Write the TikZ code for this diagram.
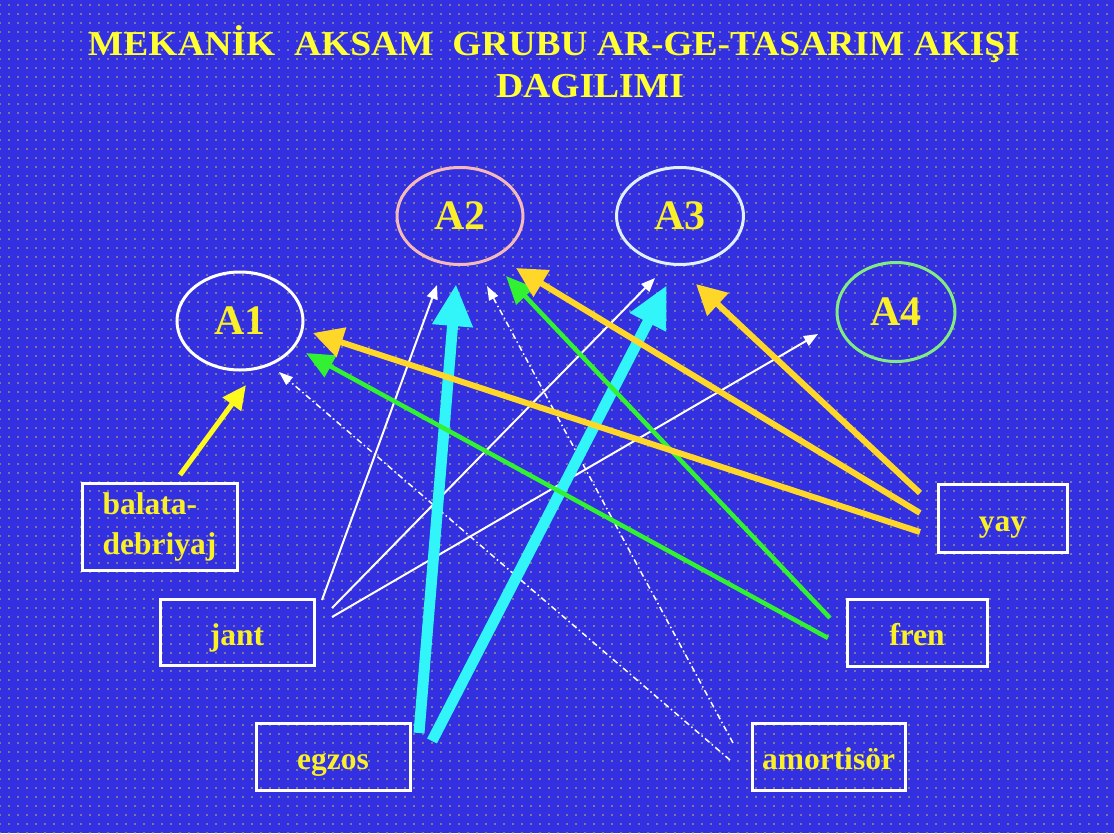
\documentclass[tikz,border=0pt]{standalone}
\usepackage{fontspec}
\setmainfont{Liberation Serif}
\usetikzlibrary{arrows.meta,patterns.meta,shapes.geometric}
\definecolor{bg}{RGB}{50,48,224}
\definecolor{dotc}{RGB}{205,190,85}
\definecolor{ttl}{RGB}{255,255,50}
\definecolor{lbl}{RGB}{250,240,40}
\definecolor{gold}{RGB}{255,215,40}
\definecolor{yel}{RGB}{255,250,30}
\definecolor{grn}{RGB}{50,240,50}
\definecolor{cyn}{RGB}{50,245,250}
\definecolor{pinkc}{RGB}{245,185,185}
\definecolor{paleb}{RGB}{225,240,255}
\definecolor{paleg}{RGB}{130,235,130}
\begin{document}
\begin{tikzpicture}[x=1pt,y=-1pt]
\tikzset{
  oval/.style={ellipse, line width=3pt, inner sep=0pt, text=lbl,
    font=\fontsize{42}{42}\selectfont\bfseries},
  txtbox/.style={rectangle, draw=white, line width=3pt, inner sep=0pt, text=lbl,
    font=\fontsize{31.5}{40}\selectfont\bfseries},
  onebox/.style={txtbox, text height=30pt, text depth=4pt},
  titletxt/.style={text=ttl, inner sep=0pt, anchor=base,
    font=\fontsize{35}{35}\selectfont\bfseries},
  goldar/.style={draw=gold, line width=6pt, -{Triangle[length=30pt,width=30pt]}},
  yelar/.style={draw=yel, line width=5pt, -{Triangle[length=24pt,width=22pt]}},
  grnar/.style={draw=grn, line width=4.5pt, -{Triangle[length=28pt,width=24pt]}},
  cynar/.style={draw=cyn, line width=11pt, -{Triangle[length=42pt,width=38pt]}},
  whtar/.style={draw=white, line width=2pt, -{Triangle[length=14pt,width=11pt]}},
  dotar/.style={draw=white, line width=1.5pt, dash pattern=on 6pt off 3pt on 1.5pt off 3pt,
    -{Triangle[length=14pt,width=10pt]}}
}
% background
\fill[bg] (0,0) rectangle (1114,833);
\fill[pattern={Dots[distance=9pt,radius=0.9pt]}, pattern color=dotc] (0,0) rectangle (1114,833);
\useasboundingbox (0,0) rectangle (1114,833);

% title
\node[titletxt] (title1) at (554,55) {\resizebox{932pt}{\height}{MEKANİK\ \ AKSAM\ \ GRUBU AR-GE-TASARIM AKIŞI}};
\node[titletxt] (title2) at (590,97) {\resizebox{188pt}{\height}{DAGILIMI}};

% ellipses
\node[oval, draw=white, minimum width=126pt, minimum height=98pt] (A1) at (240,321) {A1};
\node[oval, draw=pinkc, minimum width=126pt, minimum height=97pt] (A2) at (460,216) {A2};
\node[oval, draw=paleb, minimum width=127pt, minimum height=97pt] (A3) at (680,216) {A3};
\node[oval, draw=paleg, minimum width=118pt, minimum height=99pt] (A4) at (896,312) {A4};

% boxes
\node[txtbox, minimum width=155pt, minimum height=87pt, align=left] (balata) at (159.5,526.5) {balata-\\debriyaj};
\node[onebox, minimum width=154pt, minimum height=66pt] (jant) at (237,632) {jant};
\node[onebox, minimum width=154pt, minimum height=67pt] (egzos) at (333,756.5) {egzos};
\node[onebox, minimum width=153pt, minimum height=67pt] (amort) at (828.5,756.5) {amortisör};
\node[onebox, minimum width=140pt, minimum height=67pt] (fren) at (917,632.5) {fren};
\node[onebox, minimum width=129pt, minimum height=68pt] (yay) at (1002.5,518) {yay};

% connector end points
\coordinate (amortT1) at (730,760); \coordinate (amortH1) at (279,372);
\coordinate (amortT2) at (733,743); \coordinate (amortH2) at (487,286);
\coordinate (jantT2) at (322,600);  \coordinate (jantH2) at (437,285);
\coordinate (jantT3) at (332,608);  \coordinate (jantH3) at (655,278);
\coordinate (jantT4) at (332,617);  \coordinate (jantH4) at (818,334);
\coordinate (egzT2) at (419,733);   \coordinate (egzH2) at (456,284);
\coordinate (egzT3) at (432,741);   \coordinate (egzH3) at (667,285);
\coordinate (frenT2) at (830,618);  \coordinate (frenH2) at (506,276);
\coordinate (frenT1) at (828,638);  \coordinate (frenH1) at (306,353);
\coordinate (yayT3) at (920,493);   \coordinate (yayH3) at (696,284);
\coordinate (yayT2) at (920,513);   \coordinate (yayH2) at (516,268);
\coordinate (yayT1) at (920,532);   \coordinate (yayH1) at (313,333);
\coordinate (balT1) at (180,475);   \coordinate (balH1) at (246,385);

% connectors
\draw[dotar] (amortT1) -- (amortH1);
\draw[dotar] (amortT2) -- (amortH2);
\draw[whtar] (jantT2) -- (jantH2);
\draw[whtar] (jantT3) -- (jantH3);
\draw[whtar] (jantT4) -- (jantH4);
\draw[cynar] (egzT2) -- (egzH2);
\draw[cynar] (egzT3) -- (egzH3);
\draw[grnar] (frenT2) -- (frenH2);
\draw[grnar] (frenT1) -- (frenH1);
\draw[goldar] (yayT3) -- (yayH3);
\draw[goldar] (yayT2) -- (yayH2);
\draw[goldar] (yayT1) -- (yayH1);
\draw[yelar] (balT1) -- (balH1);
\end{tikzpicture}
\end{document}
